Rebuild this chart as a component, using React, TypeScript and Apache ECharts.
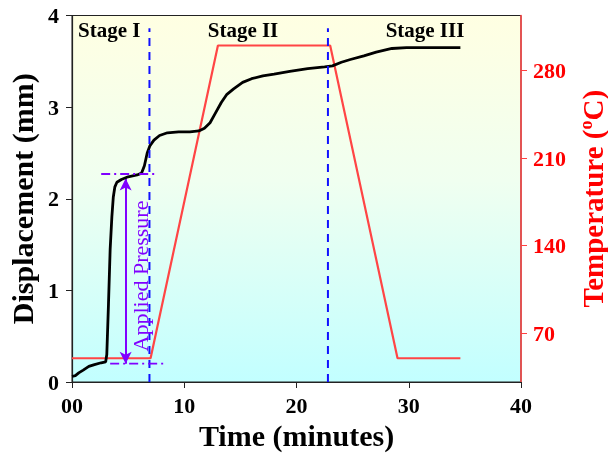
import React, { useEffect, useRef } from "react";
import * as echarts from "echarts";

const dispTime = [0, 0.3, 0.6, 1.0, 1.5, 2.0, 2.6, 3.0, 3.1, 3.25, 3.4, 3.55, 3.68, 3.82, 4.0, 4.4, 5.0, 5.8, 6.2, 6.45, 6.7, 6.95, 7.3, 7.8, 8.5, 9.5, 10.5, 11.3, 11.8, 12.3, 12.8, 13.3, 13.8, 14.4, 15.2, 16, 17, 18, 19.4, 21, 22.5, 23.2, 24, 24.8, 26, 27.1, 28.5, 29.8, 32, 34.6];
const dispValues = [0.06, 0.07, 0.1, 0.13, 0.17, 0.19, 0.21, 0.22, 0.3, 0.85, 1.45, 1.8, 2.02, 2.13, 2.18, 2.21, 2.24, 2.26, 2.28, 2.36, 2.5, 2.58, 2.64, 2.69, 2.72, 2.73, 2.73, 2.74, 2.77, 2.83, 2.94, 3.05, 3.14, 3.2, 3.27, 3.31, 3.34, 3.36, 3.39, 3.42, 3.44, 3.45, 3.49, 3.52, 3.56, 3.6, 3.64, 3.65, 3.65, 3.65];

const tempTime = [0, 7, 13, 23, 29, 34.6];
const tempValues = [50, 50, 300, 300, 50, 50];

const stageBoundaries = [6.9, 22.8];
const stageLineTop = 3.86;
const stageLabels = ["Stage I", "Stage II", "Stage III"];

const pressureTop = { y: 2.27, x0: 2.6, x1: 7.5 };
const pressureBottom = { y: 0.2, x0: 3.4, x1: 8.3 };
const pressureArrow = { x: 4.78, y0: 2.22, y1: 0.2 };

const tempTicks = [70, 140, 210, 280];

const FONT = "'Liberation Serif', 'Times New Roman', serif";

export default function App() {
  const ref = useRef<HTMLDivElement>(null);
  useEffect(() => {
    if (!ref.current) return;
    const chart = echarts.init(ref.current, undefined, { renderer: "svg" });
    const purple = "#8000ff";
    const blue = "#1010ff";
    const series: any[] = [
      {
        type: "line",
        xAxisIndex: 0,
        yAxisIndex: 0,
        data: dispTime.map((t, i) => [t, dispValues[i]]),
        symbol: "none",
        lineStyle: { color: "#000", width: 2.8 },
        z: 5,
      },
      {
        type: "line",
        xAxisIndex: 0,
        yAxisIndex: 1,
        data: tempTime.map((t, i) => [t, tempValues[i]]),
        symbol: "none",
        lineStyle: { color: "#ff4545", width: 2.2 },
        z: 4,
      },
      ...stageBoundaries.map((b) => ({
        type: "line",
        yAxisIndex: 0,
        data: [
          [b, 0],
          [b, stageLineTop],
        ],
        symbol: "none",
        lineStyle: { color: blue, width: 2, type: [8, 6] },
        z: 6,
      })),
      ...[pressureTop, pressureBottom].map((p) => ({
        type: "line",
        yAxisIndex: 0,
        data: [
          [p.x0, p.y],
          [p.x1, p.y],
        ],
        symbol: "none",
        lineStyle: { color: purple, width: 1.8, type: [9, 4, 2, 4] },
        z: 6,
      })),
      {
        type: "line",
        yAxisIndex: 0,
        data: [],
        symbol: "none",
        markLine: {
          silent: true,
          symbol: ["arrow", "arrow"],
          symbolSize: [9, 12],
          label: { show: false },
          lineStyle: { color: purple, width: 2, type: "solid" },
          data: [[{ coord: [pressureArrow.x, pressureArrow.y0] }, { coord: [pressureArrow.x, pressureArrow.y1] }]],
        },
      },
    ];

    chart.setOption({
      animation: false,
      grid: {
        left: 72,
        right: 87,
        top: 15.5,
        bottom: 72,
        outerBoundsMode: "none",
        containLabel: false,
        show: true,
        borderColor: "#222",
        borderWidth: 1,
        backgroundColor: new echarts.graphic.LinearGradient(0, 0, 0, 1, [
          { offset: 0, color: "#ffffe2" },
          { offset: 0.45, color: "#f0fff0" },
          { offset: 1, color: "#c2ffff" },
        ]),
      },
      xAxis: {
        type: "value",
        min: 0,
        max: 40,
        interval: 10,
        splitLine: { show: false },
        axisLine: { lineStyle: { color: "#222", width: 1.2 } },
        axisTick: { inside: false, length: 6, lineStyle: { color: "#222" } },
        axisLabel: {
          color: "#000",
          fontFamily: FONT,
          fontWeight: "bold",
          fontSize: 22,
          margin: 12,
          formatter: (v: number) => (v === 0 ? "00" : String(v)),
        },
        name: "Time (minutes)",
        nameLocation: "middle",
        nameGap: 37,
        nameTextStyle: { color: "#000", fontFamily: FONT, fontWeight: "bold", fontSize: 30 },
      },
      yAxis: [
        {
          type: "value",
          min: 0,
          max: 4,
          interval: 1,
          position: "left",
          splitLine: { show: false },
          axisLine: { show: true, lineStyle: { color: "#222", width: 1.2 } },
          axisTick: { show: true, length: 6, lineStyle: { color: "#222" } },
          axisLabel: { color: "#000", fontFamily: FONT, fontWeight: "bold", fontSize: 22, margin: 13 },
          name: "Displacement (mm)",
          nameLocation: "middle",
          nameGap: 30,
          nameTextStyle: { color: "#000", fontFamily: FONT, fontWeight: "bold", fontSize: 30 },
        },
        {
          type: "value",
          min: 31,
          max: 324,
          position: "right",
          splitLine: { show: false },
          axisLine: { show: true, lineStyle: { color: "#ff4040", width: 1.5 } },
          axisTick: { show: true, length: 6, customValues: tempTicks, lineStyle: { color: "#ff4040" } },
          axisLabel: {
            color: "#ff0000",
            fontFamily: FONT,
            fontWeight: "bold",
            fontSize: 22,
            margin: 12,
            customValues: tempTicks,
          },
          name: "Temperature ({sup|o}C)",
          nameLocation: "middle",
          nameGap: 53,
          nameTextStyle: {
            color: "#ff0000",
            fontFamily: FONT,
            fontWeight: "bold",
            fontSize: 29,
            rich: {
              sup: {
                color: "#ff0000",
                fontFamily: FONT,
                fontWeight: "bold",
                fontSize: 18,
                padding: [0, 0, 14, 0],
              },
            },
          },
        },
      ],
      graphic: [
        {
          type: "text",
          left: 78,
          top: 19,
          style: { text: stageLabels[0], font: `bold 21px ${FONT}`, fill: "#000" },
          z: 100,
        },
        {
          type: "text",
          x: 243,
          y: 30,
          style: { text: stageLabels[1], font: `bold 21px ${FONT}`, fill: "#000", align: "center", verticalAlign: "middle" },
          z: 100,
        },
        {
          type: "text",
          x: 425,
          y: 30,
          style: { text: stageLabels[2], font: `bold 21px ${FONT}`, fill: "#000", align: "center", verticalAlign: "middle" },
          z: 100,
        },
        {
          type: "text",
          x: 140,
          y: 276,
          rotation: Math.PI / 2,
          style: { text: "Applied Pressure", font: `22px ${FONT}`, fill: purple, align: "center", verticalAlign: "middle" },
          z: 100,
        },
      ],
      series,
    });
    return () => chart.dispose();
  }, []);
  return <div ref={ref} style={{ position: "fixed", left: 0, top: 0, width: 608, height: 454 }} />;
}
